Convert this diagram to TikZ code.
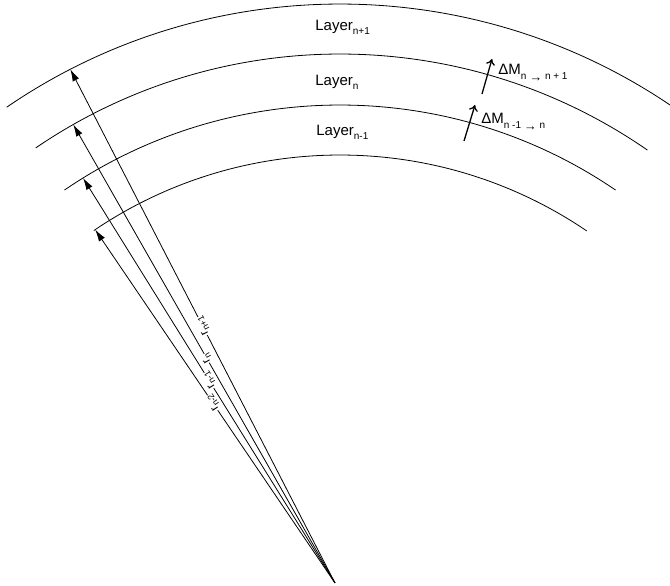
\documentclass[tikz,border=0pt]{standalone}
\usepackage{fontspec}
\setmainfont{Liberation Sans}
\usetikzlibrary{arrows.meta}
\newcommand{\lsub}[2][10]{\raisebox{-0.28em}{\fontsize{#1}{#1}\selectfont #2}}
\newcommand{\larr}{\raisebox{-0.25em}{\fontsize{13}{13}\selectfont →}}

\begin{document}
\begin{tikzpicture}[x=1pt,y=1pt,>={Latex[length=12pt,width=7pt]},line width=0.8pt]
  \tikzstyle{layerlbl}=[anchor=west,inner sep=0pt,font=\fontsize{15}{17}\selectfont]
  \tikzstyle{radiuslbl}=[sloped,allow upside down,fill=white,inner sep=0.4pt,
    font=\fontsize{12}{13}\selectfont]
  \tikzstyle{fluxarrow}=[-{To[length=6pt,width=9pt]},line width=1.3pt]
  \useasboundingbox (0,0) rectangle (670,586);
  \coordinate (c) at (340,-8);
  \coordinate (o) at (335,3);
  % layer boundaries
  \foreach \r/\a/\b in {590/55.6/124.4,540/55.3/124.3,489/55.7/124.3,439/55.8/124.1}
    \draw ([shift={(c)}]\b:\r) arc[start angle=\b,end angle=\a,radius=\r];
  % ends of the radii
  \coordinate (t1) at ([shift={(c)}]117.2:590);
  \coordinate (t2) at ([shift={(c)}]119.6:540);
  \coordinate (t3) at ([shift={(c)}]121.7:489);
  \coordinate (t4) at ([shift={(c)}]123.9:439);
  \draw[->] (o) -- node[radiuslbl] {r\lsub[9]{n+1}} (t1);
  \draw[->] (o) -- node[radiuslbl,pos=0.49] {r\lsub[9]{n}} (t2);
  \draw[->] (o) -- node[radiuslbl] {r\lsub[9]{n-1}} (t3);
  \draw[->] (o) -- node[radiuslbl,pos=0.51] {r\lsub[9]{n-2}} (t4);
  % layer names
  \node[layerlbl] (lup) at (315,559) {Layer\lsub{n+1}};
  \node[layerlbl] (lmid) at (315,504) {Layer\lsub{n}};
  \node[layerlbl] (llow) at (316,454) {Layer\lsub{n-1}};
  % mass transfer
  \coordinate (f1a) at (482,492);
  \coordinate (f1b) at (492,527);
  \coordinate (f2a) at (464,445);
  \coordinate (f2b) at (475,481);
  \draw[fluxarrow] (f1a) -- (f1b);
  \draw[fluxarrow] (f2a) -- (f2b);
  \node[layerlbl] (m1) at (498,513) {ΔM\lsub{n \larr{} n + 1}};
  \node[layerlbl] (m2) at (481,464) {ΔM\lsub{n -1 \larr{} n}};
\end{tikzpicture}
\end{document}
